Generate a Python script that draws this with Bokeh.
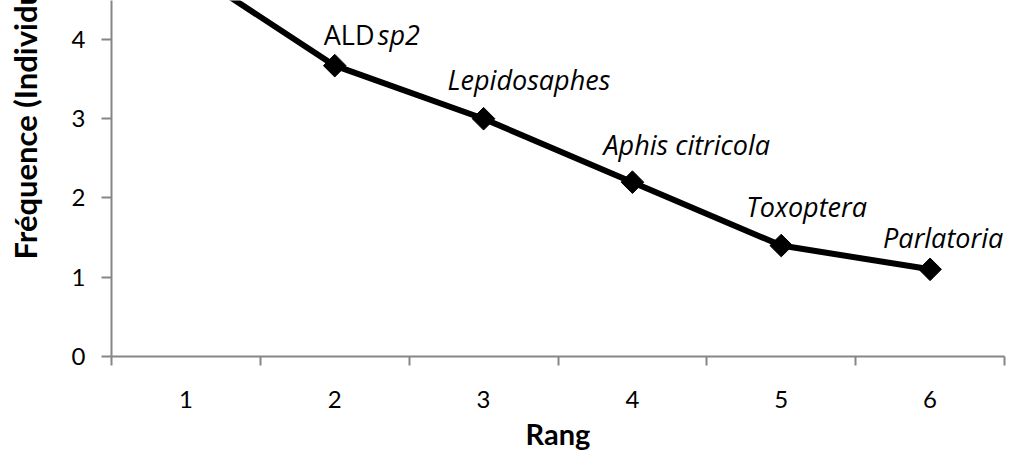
import numpy as np
from bokeh.plotting import figure
from bokeh.models import Range1d, FixedTicker, Title, ColumnDataSource
from bokeh.core.properties import value
from bokeh.embed import file_html
from bokeh.resources import INLINE

# ---- data ----
ranks = [1, 2, 3, 4, 5, 6]
frequences = [4.9, 3.67, 3.0, 2.2, 1.4, 1.1]
species = ["", "sp2", "Lepidosaphes", "Aphis citricola", "Toxoptera", "Parlatoria"]
prefixes = ["", "ALD", "", "", "", ""]
y_ticks = [0, 1, 2, 3, 4]
x_tick_labels = ["1", "2", "3", "4", "5", "6"]
y_title = "Fréquence (Individus)"
x_title = "Rang"

# ---- layout / style (label placement in pixels) ----
label_dx = [0, 43, -36, -29, -35, -47]
label_dy = [-31, -31, -39, -38, -39, -32]
prefix_dx = [0, -11, 0, 0, 0, 0]

AXIS = "#868686"
TICK_FONT = "Lato"
LABEL_FONT = "Open Sans"

src = ColumnDataSource(dict(x=ranks, y=frequences, name=species, pre=prefixes,
                            dx=label_dx, dy=label_dy, pdx=prefix_dx))

p = figure(width=1009, height=455,
           x_range=Range1d(0.5, 6.5), y_range=Range1d(0, 4.492),
           output_backend="svg", toolbar_location=None,
           min_border_left=111, min_border_right=5,
           min_border_top=0, min_border_bottom=99)
p.outline_line_color = None
p.grid.visible = False

minor = [r - 0.5 for r in ranks] + [ranks[-1] + 0.5]
xa = p.xaxis[0]
xa.ticker = FixedTicker(ticks=ranks, minor_ticks=minor)
xa.major_label_overrides = {r: l for r, l in zip(ranks, x_tick_labels)}
xa.major_tick_out = 0
xa.major_tick_in = 0
xa.minor_tick_out = 9
xa.minor_tick_in = 0
xa.minor_tick_line_color = AXIS
xa.minor_tick_line_width = 2
xa.axis_line_color = AXIS
xa.axis_line_width = 2
xa.major_label_standoff = 25
xa.major_label_text_font = TICK_FONT
xa.major_label_text_font_size = "24px"
xa.major_label_text_color = "black"
xa.axis_label = x_title
xa.axis_label_standoff = 5
xa.axis_label_text_font = TICK_FONT
xa.axis_label_text_font_style = "bold"
xa.axis_label_text_font_size = "29px"
xa.axis_label_text_color = "black"

ya = p.yaxis[0]
ya.ticker = FixedTicker(ticks=y_ticks)
ya.major_tick_out = 10
ya.major_tick_in = 0
ya.minor_tick_line_color = None
ya.major_tick_line_color = AXIS
ya.major_tick_line_width = 2
ya.axis_line_color = AXIS
ya.axis_line_width = 2
ya.major_label_standoff = 16
ya.major_label_text_font = TICK_FONT
ya.major_label_text_font_size = "24px"
ya.major_label_text_color = "black"

# spacer between axis and y title, then the y title itself
p.add_layout(Title(text=" ", text_font_size="1px", standoff=22), "left")
p.add_layout(Title(text=y_title, align="left", offset=97, vertical_align="bottom",
                   standoff=0, text_font=TICK_FONT, text_font_style="bold",
                   text_font_size="31px", text_color="black"), "left")

p.line("x", "y", source=src, line_width=6, line_color="black")
p.scatter("x", "y", source=src, marker="square", size=16, angle=np.pi / 4,
          fill_color="black", line_color="black")

p.text("x", "y", text="name", source=src, x_offset="dx", y_offset="dy",
       text_font=value(LABEL_FONT), text_font_style="italic", text_font_size="27px",
       text_align="left", text_baseline="alphabetic", text_color="black")
p.text("x", "y", text="pre", source=src, x_offset="pdx", y_offset="dy",
       text_font=value(LABEL_FONT), text_font_style="normal", text_font_size="27px",
       text_align="left", text_baseline="alphabetic", text_color="black")

open("out.html", "w").write(file_html(p, INLINE))
